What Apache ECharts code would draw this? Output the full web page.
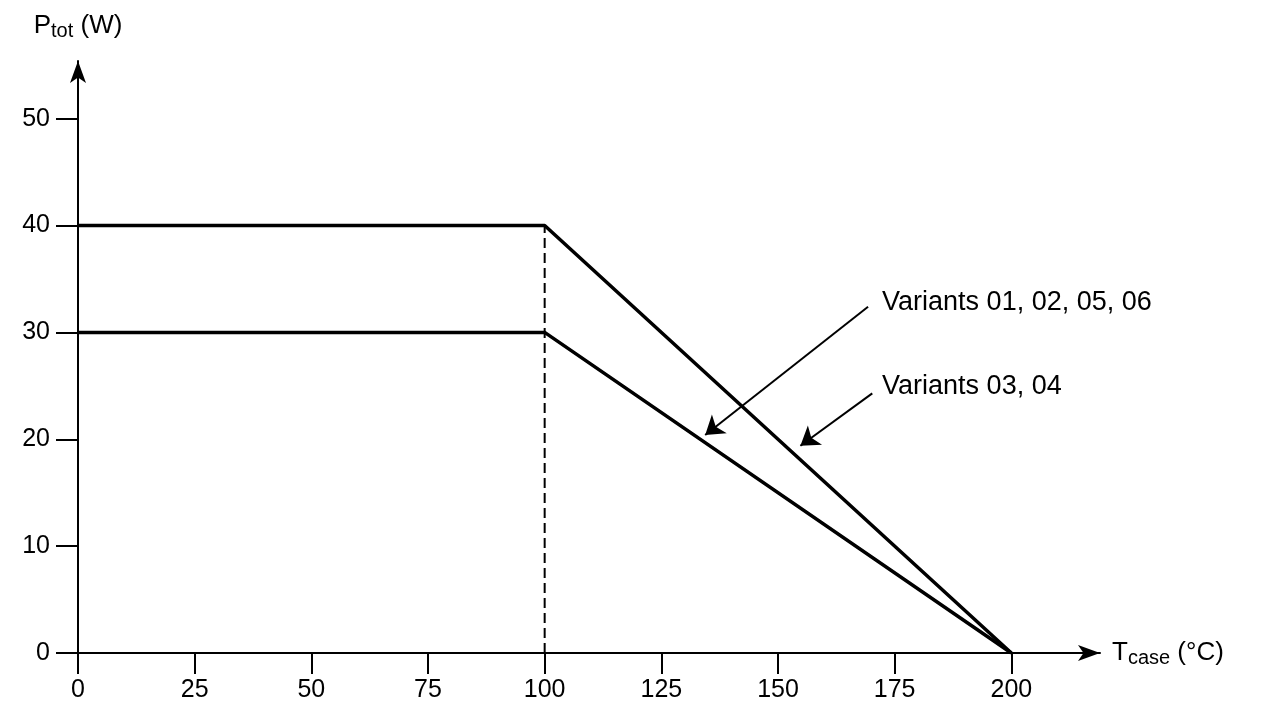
<!DOCTYPE html>
<html>
<head>
<meta charset="utf-8">
<script src="https://cdn.jsdelivr.net/npm/echarts@6/dist/echarts.min.js"></script>
<style>html,body{margin:0;padding:0;background:#fff;}#c{width:1264px;height:715px;}</style>
</head>
<body>
<div id="c"></div>
<script>
// Data
const xTicks = [0, 25, 50, 75, 100, 125, 150, 175, 200];
const yTicks = [0, 10, 20, 30, 40, 50];
const upperCurve = [[0, 40], [100, 40], [200, 0]];   // Variants 03, 04
const lowerCurve = [[0, 30], [100, 30], [200, 0]];   // Variants 01, 02, 05, 06
const dashedRef = [[100, 0], [100, 40]];
const labelNames = ['Variants 01, 02, 05, 06', 'Variants 03, 04'];
const labelPoints = [[172.3, 32.8], [172.3, 24.9]];
const arrowStarts = [[169.3, 32.4], [170.2, 24.3]];
const arrowTips = [[134.4, 20.4], [154.8, 19.4]];

const FONT = '"Liberation Sans", Arial, Helvetica, sans-serif';
const chart = echarts.init(document.getElementById('c'), null, {renderer: 'canvas'});

const axisCommon = {
  axisLine: {show: true, onZero: false, lineStyle: {color: '#000', width: 2}, symbol: ['none', 'arrow'], symbolSize: [12, 22]},
  axisTick: {show: true, inside: false, length: 21, lineStyle: {color: '#000', width: 2}},
  splitLine: {show: false},
};
const richName = {
  m: {fontSize: 26, fontFamily: FONT, color: '#000'},
  s: {fontSize: 20, fontFamily: FONT, color: '#000', verticalAlign: 'bottom', padding: [11, 0, 0, 0]}
};

chart.setOption({
  animation: false,
  backgroundColor: '#fff',
  grid: {left: 78, right: 164, top: 61, bottom: 62, containLabel: false},
  xAxis: Object.assign({}, axisCommon, {
    type: 'value', min: 0, max: 219,
    axisTick: Object.assign({}, axisCommon.axisTick, {customValues: xTicks}),
    axisLabel: {customValues: xTicks, color: '#000', fontFamily: FONT, fontSize: 25, margin: 25},
    name: '{m|T}{s|case}{m| (°C)}',
    nameLocation: 'end', nameGap: 12,
    nameTextStyle: {color: '#000', fontFamily: FONT, align: 'left', verticalAlign: 'middle', rich: richName}
  }),
  yAxis: Object.assign({}, axisCommon, {
    type: 'value', min: 0, max: 55.4,
    axisTick: Object.assign({}, axisCommon.axisTick, {customValues: yTicks, length: 22}),
    axisLabel: {customValues: yTicks, color: '#000', fontFamily: FONT, fontSize: 25, margin: 28},
    name: '{m|P}{s|tot}{m| (W)}',
    nameLocation: 'end', nameGap: 20,
    nameTextStyle: {color: '#000', fontFamily: FONT, align: 'center', verticalAlign: 'bottom', rich: richName}
  }),
  series: [
    {type: 'line', data: upperCurve, symbol: 'none', lineStyle: {color: '#000', width: 3.5}, z: 5},
    {type: 'line', data: lowerCurve, symbol: 'none', lineStyle: {color: '#000', width: 3.5}, z: 5},
    {type: 'line', data: dashedRef, symbol: 'none', lineStyle: {color: '#000', width: 2, type: [10, 5]}, z: 4},
    {type: 'lines', coordinateSystem: 'cartesian2d', symbol: ['none', 'arrow'], symbolSize: [9, 18],
      lineStyle: {color: '#000', width: 2, opacity: 1, curveness: 0},
      data: arrowStarts.map((s, i) => ({coords: [s, arrowTips[i]]})), z: 6},
    {type: 'scatter', symbolSize: 0, itemStyle: {color: '#000', opacity: 1},
      data: labelPoints.map((p, i) => ({value: p, name: labelNames[i]})),
      label: {show: true, position: 'right', distance: 0, color: '#000', opacity: 1, textBorderWidth: 0,
        fontFamily: FONT, fontSize: 27, formatter: p => p.name}}
  ]
});
</script>
</body>
</html>
